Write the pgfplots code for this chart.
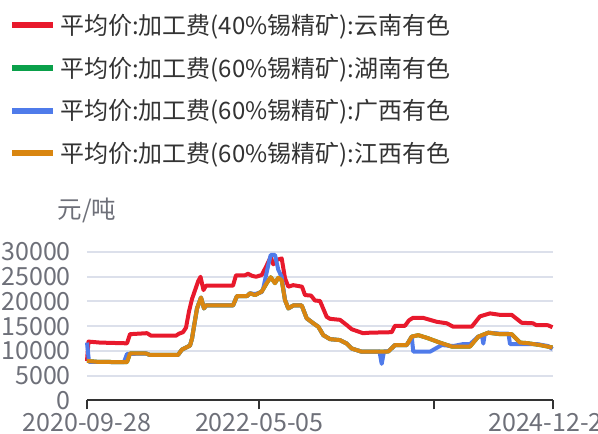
\documentclass[border=0pt]{standalone}
\usepackage{pgfplots}
\pgfplotsset{compat=1.18}
\usepackage{fontspec}
\setmainfont{Noto Sans CJK SC}
\definecolor{cred}{HTML}{E8192C}
\definecolor{cgreen}{HTML}{0AA04A}
\definecolor{cblue}{HTML}{4F7BEA}
\definecolor{corange}{HTML}{D98610}
\definecolor{gridc}{HTML}{DCE0EB}
\definecolor{axisc}{HTML}{333333}
\definecolor{labc}{HTML}{6E7079}
\definecolor{legc}{HTML}{333333}
\begin{document}
\begin{tikzpicture}
\useasboundingbox (0,0) rectangle (598pt,434pt);
\clip (0,0) rectangle (598pt,434pt);
\begin{axis}[
  at={(87pt,33.5pt)}, anchor=south west,
  scale only axis, width=465.5pt, height=148.5pt,
  xmin=87, xmax=552.5, ymin=0, ymax=30000,
  clip=false,
  axis lines*=left,
  x axis line style={draw=axisc, line width=2pt},
  y axis line style={draw=none},
  xtick={87,259.3,434.3,552.5},
  xticklabels={2020-09-28,2022-05-05,,2024-12-27},
  ytick={0,5000,...,30000},
  tick align=outside,
  major tick length=9pt,
  xtick style={draw=axisc, line width=2pt},
  ytick style={draw=none},
  ymajorgrids,
  grid style={draw=gridc, line width=2pt},
  scaled y ticks=false,
  /pgf/number format/.cd, 1000 sep={}, assume math mode=true, /pgfplots/.cd,
  tick label style={font=\fontsize{25}{28}\selectfont, text=labc},
  yticklabel style={anchor=east, inner sep=0pt},
  yticklabel shift=7pt,
  xticklabel style={anchor=north, inner sep=0pt, yshift=-4pt},
  every axis y label/.style={at={(axis description cs:0,1.283)}, anchor=center, font=\fontsize{24.5}{28}\selectfont, text=labc},
  ylabel={元/吨},
  legend cell align=left,
  legend image code/.code={\draw[#1, line width=6pt] (0pt,0pt) -- (41pt,0pt);},
  legend style={at={(axis description cs:-0.16756,2.599)}, anchor=north west,
    draw=none, fill=none, inner sep=0pt, outer sep=0pt,
    row sep=20.8pt, column sep=4pt,
    font=\fontsize{24}{28}\selectfont, text=legc,
    nodes={inner sep=0pt}},
  every axis plot/.append style={line width=4pt, line join=round, mark=none},
]
\addplot[cred] coordinates {
(87,8000) (88.5,11900) (100,11700) (127,11550) (130,13400) (147,13600) (151,13100)
(176,13100) (179,13500) (183,13800) (186,14700) (189,18000) (192,20500) (198,24000)
(200.5,25000) (203.5,22300) (206,23200) (233,23200) (236,25300) (245,25300) (248,25600)
(252,25200) (256,25000) (261.7,25350) (266,27000) (270.7,29000) (273.3,27500)
(276.7,28400) (281.7,28700) (285,24700) (288.3,23000) (293.3,23300) (302,23000)
(305,21300) (311,21200) (315,20200) (320,20100) (326.7,16900) (330,16500) (340,16300)
(346.7,15250) (351.7,14400) (363,13600) (370,13700) (391.7,13800) (395,15100)
(405,15100) (409,16200) (413,16700) (423,16700) (436.7,15900) (446.7,15600)
(453.3,14900) (471.7,14900) (480,17000) (490,17600) (500,17300) (511.7,17300)
(521.7,15700) (533,15600) (536,15250) (548,15200) (552.5,14800)
};
\addlegendentry{平均价:加工费(40\%锡精矿):云南有色}
\addplot[cgreen] coordinates {
(87,8000) (98,7800) (127,7750) (130,9500) (146,9500) (150,9200) (178,9200) (182,10300)
(190,11100) (192,12500) (197,18600) (201,20800) (204,18600) (206,19200) (233,19200)
(237,21100) (247,21100) (250,21650) (255,21300) (261.7,22000) (266.7,23700)
(270.7,24900) (275,23700) (278.3,24800) (281.7,24300) (285,20300) (288.3,18600)
(293.3,19200) (301.7,19200) (306.7,16600) (313.3,15600) (318.3,14900) (323.3,13200)
(330,12400) (340,12200) (346.7,11500) (351.7,10500) (361.7,9860) (388.3,9900)
(395,11200) (406.7,11200) (411.7,12900) (418.3,13200) (428.3,12560) (440,11680)
(451.7,10900) (470,10900) (478.3,12900) (488.3,13700) (500,13400) (511.7,13400)
(520,11700) (527,11600) (540,11200) (552.5,10700)
};
\addlegendentry{平均价:加工费(60\%锡精矿):湖南有色}
\addplot[cblue] coordinates {
(87,11700) (89,7800) (98,7800) (124,7750) (127,9400) (146,9500) (150,9200) (178,9200)
(182,10300) (190,11100) (192,12500) (197,18600) (201,20800) (204,18600) (206,19200)
(233,19200) (237,21100) (247,21100) (250,21650) (255,21500) (261.7,21900)
(263.3,22700) (268.3,27400) (270.7,29400) (275,29400) (278.3,26400) (281.7,25000)
(285,20300) (288.3,18600) (293.3,19200) (301.7,19200) (306.7,16600) (313.3,15600)
(318.3,14900) (323.3,13200) (330,12400) (340,12200) (346.7,11500) (351.7,10500)
(361.7,9860) (379.5,9900) (381.7,7400) (384,9900) (388.3,9900) (395,11200)
(406.7,11200) (411.7,12900) (413.3,9860) (430,9860) (441.7,11200) (453.3,11000)
(463.3,11400) (470,11400) (478.3,12900) (482,13100) (483.3,11500) (484.7,13300)
(488.3,13700) (500,13500) (508.5,13500) (510,11400) (537,11400) (548,11000)
(552.5,10400)
};
\addlegendentry{平均价:加工费(60\%锡精矿):广西有色}
\addplot[corange] coordinates {
(87,8000) (98,7800) (127,7750) (130,9500) (146,9500) (150,9200) (178,9200) (182,10300)
(190,11100) (192,12500) (197,18600) (201,20800) (204,18600) (206,19200) (233,19200)
(237,21100) (247,21100) (250,21650) (255,21300) (261.7,22000) (266.7,23700)
(270.7,24900) (275,23700) (278.3,24800) (281.7,24300) (285,20300) (288.3,18600)
(293.3,19200) (301.7,19200) (306.7,16600) (313.3,15600) (318.3,14900) (323.3,13200)
(330,12400) (340,12200) (346.7,11500) (351.7,10500) (361.7,9860) (388.3,9900)
(395,11200) (406.7,11200) (411.7,12900) (418.3,13200) (428.3,12560) (440,11680)
(451.7,10900) (470,10900) (478.3,12900) (488.3,13700) (500,13400) (511.7,13400)
(520,11700) (527,11600) (540,11200) (552.5,10700)
};
\addlegendentry{平均价:加工费(60\%锡精矿):江西有色}
\end{axis}
\end{tikzpicture}
\end{document}
